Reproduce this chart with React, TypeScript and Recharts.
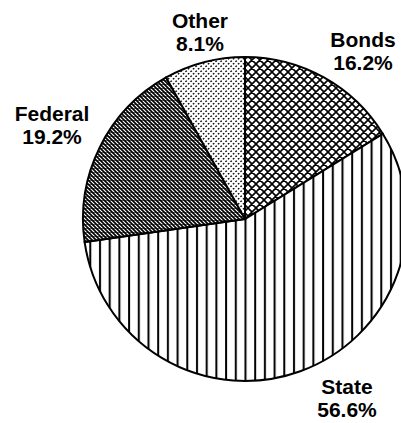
import { PieChart, Pie, Cell } from "recharts"

const names = ["Bonds", "State", "Federal", "Other"]
const shares = [16.2, 56.6, 19.2, 8.1]
const fills = ["url(#hatchCross)", "url(#hatchVert)", "url(#hatchDense)", "url(#hatchDots)"]

// label anchor offsets from the pie centre (centre x, first baseline)
const labelOffsets = [
  [118, -172],
  [102, 175],
  [-193, -98],
  [-45, -191],
]

const data = names.map((name, i) => ({ name, value: shares[i] }))

const CX = 245
const CY = 219

function renderLabel(props: any) {
  const { index, cx, cy } = props
  const [dx, dy] = labelOffsets[index]
  const x = cx + dx
  const y = cy + dy
  return (
    <text
      x={x}
      y={y}
      textAnchor="middle"
      fill="#000"
      fontFamily="'Liberation Sans', Arial, sans-serif"
      fontWeight="bold"
      fontSize={21}
    >
      <tspan x={x} y={y}>{names[index]}</tspan>
      <tspan x={x} y={y + 23}>{shares[index].toFixed(1)}%</tspan>
    </text>
  )
}

export default function App() {
  return (
    <div style={{ position: "absolute", left: 0, top: 0, width: 401, height: 423, background: "#fff" }}>
      <PieChart width={401} height={423} margin={{ top: 0, right: 0, bottom: 0, left: 0 }}>
        <defs>
          <pattern id="hatchCross" width="8" height="8" patternUnits="userSpaceOnUse">
            <rect width="8" height="8" fill="#fff" />
            <path d="M0,0 L8,8 M8,0 L0,8 M-1,7 L1,9 M7,-1 L9,1 M-1,1 L1,-1 M7,9 L9,7" stroke="#000" strokeWidth="1.6" />
          </pattern>
          <pattern id="hatchVert" width="9.7" height="10" patternUnits="userSpaceOnUse">
            <rect width="9.7" height="10" fill="#fff" />
            <line x1="3" y1="0" x2="3" y2="10" stroke="#000" strokeWidth="2" />
          </pattern>
          <pattern id="hatchDense" width="4" height="4" patternUnits="userSpaceOnUse">
            <rect width="4" height="4" fill="#fff" />
            <path d="M0,0 L4,4 M-1,3 L1,5 M3,-1 L5,1" stroke="#000" strokeWidth="1.7" />
            <line x1="0" y1="0.5" x2="4" y2="0.5" stroke="#000" strokeWidth="0.6" />
          </pattern>
          <pattern id="hatchDots" width="5" height="5" patternUnits="userSpaceOnUse">
            <rect width="5" height="5" fill="#fff" />
            <path d="M0.4,1.8 L1.8,0.7" stroke="#000" strokeWidth="1.4" />
            <path d="M2.9,4.3 L4.3,3.2" stroke="#000" strokeWidth="1.4" />
          </pattern>
        </defs>
        <Pie
          data={data}
          dataKey="value"
          nameKey="name"
          cx={CX}
          cy={CY}
          outerRadius={162}
          startAngle={90}
          endAngle={-270}
          stroke="#000"
          strokeWidth={2}
          label={renderLabel}
          labelLine={false}
          isAnimationActive={false}
        >
          {data.map((entry, index) => (
            <Cell key={`cell-${index}`} fill={fills[index]} />
          ))}
        </Pie>
      </PieChart>
    </div>
  )
}
